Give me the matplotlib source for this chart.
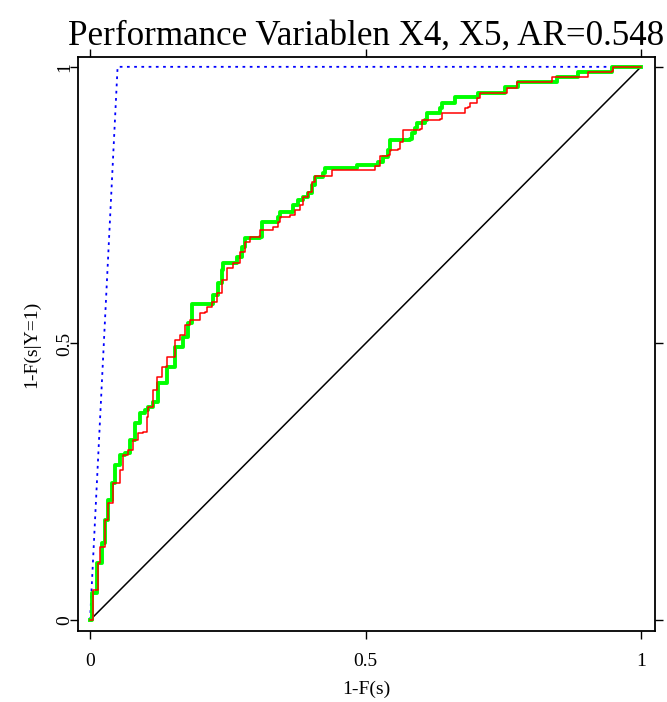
import matplotlib
matplotlib.use("Agg")
import matplotlib.pyplot as plt

plt.rcParams["font.family"] = ["Liberation Serif", "DejaVu Serif"]

# === Dane ===
# krzywa zielona (model 1)
green_x = [0.0, 0.003, 0.012, 0.021, 0.027, 0.033, 0.039, 0.045, 0.054, 0.064,
           0.073, 0.082, 0.091, 0.100, 0.105, 0.114, 0.123, 0.140, 0.154, 0.169,
           0.178, 0.185, 0.221, 0.223, 0.232, 0.240, 0.241, 0.260, 0.267, 0.276,
           0.281, 0.309, 0.312, 0.332, 0.341, 0.345, 0.363, 0.368, 0.377, 0.387,
           0.396, 0.403, 0.408, 0.423, 0.426, 0.485, 0.485, 0.514, 0.523, 0.532,
           0.541, 0.544, 0.581, 0.584, 0.590, 0.593, 0.608, 0.612, 0.632, 0.635,
           0.639, 0.662, 0.662, 0.702, 0.704, 0.750, 0.753, 0.777, 0.777, 0.848,
           0.848, 0.886, 0.886, 0.947, 0.947, 1.0]
green_y = [0.0, 0.049, 0.103, 0.139, 0.181, 0.217, 0.248, 0.280, 0.298, 0.302,
           0.325, 0.356, 0.374, 0.380, 0.385, 0.394, 0.429, 0.458, 0.494, 0.512,
           0.537, 0.571, 0.571, 0.588, 0.609, 0.633, 0.646, 0.646, 0.656, 0.675,
           0.691, 0.693, 0.720, 0.720, 0.729, 0.738, 0.738, 0.750, 0.759, 0.765,
           0.772, 0.787, 0.801, 0.808, 0.817, 0.817, 0.823, 0.823, 0.828, 0.837,
           0.850, 0.868, 0.870, 0.881, 0.890, 0.899, 0.904, 0.917, 0.917, 0.926,
           0.935, 0.937, 0.946, 0.946, 0.953, 0.953, 0.964, 0.967, 0.973, 0.975,
           0.982, 0.984, 0.991, 0.991, 1.0, 1.0]

# krzywa czerwona (model 2)
red_x = [0.0, 0.005, 0.015, 0.018, 0.027, 0.033, 0.042, 0.054, 0.060, 0.069,
         0.078, 0.087, 0.096, 0.103, 0.105, 0.114, 0.122, 0.131, 0.140, 0.154,
         0.163, 0.172, 0.181, 0.196, 0.200, 0.209, 0.212, 0.221, 0.230, 0.240,
         0.249, 0.260, 0.272, 0.281, 0.290, 0.309, 0.332, 0.341, 0.345, 0.363,
         0.372, 0.381, 0.387, 0.396, 0.403, 0.408, 0.436, 0.439, 0.514, 0.517,
         0.526, 0.526, 0.541, 0.544, 0.559, 0.563, 0.568, 0.599, 0.603, 0.635,
         0.639, 0.677, 0.681, 0.686, 0.690, 0.702, 0.708, 0.750, 0.757, 0.775,
         0.775, 0.835, 0.838, 0.902, 0.904, 0.947, 0.949, 1.0]
red_y = [0.0, 0.054, 0.103, 0.132, 0.181, 0.212, 0.248, 0.271, 0.298, 0.307,
         0.325, 0.338, 0.340, 0.367, 0.385, 0.416, 0.439, 0.458, 0.476, 0.506,
         0.515, 0.533, 0.542, 0.542, 0.555, 0.557, 0.566, 0.575, 0.591, 0.615,
         0.637, 0.646, 0.665, 0.684, 0.693, 0.705, 0.711, 0.720, 0.729, 0.732,
         0.741, 0.750, 0.765, 0.774, 0.792, 0.803, 0.803, 0.814, 0.814, 0.821,
         0.823, 0.839, 0.841, 0.850, 0.852, 0.864, 0.886, 0.888, 0.904, 0.906,
         0.917, 0.917, 0.926, 0.928, 0.935, 0.944, 0.953, 0.953, 0.962, 0.964,
         0.973, 0.973, 0.982, 0.982, 0.991, 0.993, 1.0, 1.0]

# model idealny i losowy
perfect_x = [0.0, 0.05, 1.0]
perfect_y = [0.0, 1.0, 1.0]
random_x = [0.0, 1.0]
random_y = [0.0, 1.0]

ticks = [0, 0.5, 1]
tick_labels = ["0", "0.5", "1"]

# === Wykres ===
fig = plt.figure(figsize=(6.67, 7.02), dpi=100)
ax = fig.add_axes([0.117, 0.101, 0.865, 0.818])

ax.plot(random_x, random_y, color="black", linewidth=1.1)
ax.plot(perfect_x, perfect_y, color="blue", linestyle=(0, (1.5, 2.5)), linewidth=1.3)
ax.plot(green_x, green_y, color="#00ff00", linewidth=2.8, drawstyle="steps-post")
ax.plot(red_x, red_y, color="red", linewidth=1.1, drawstyle="steps-post")

ax.set_xlim(-0.0218, 1.0254)
ax.set_ylim(-0.0199, 1.018)

ax.set_xticks(ticks)
ax.set_xticklabels(tick_labels)
ax.set_yticks(ticks)
ax.set_yticklabels(tick_labels, rotation=90, va="center")

ax.tick_params(direction="out", length=5.8, width=1, labelsize=14,
               top=True, right=True, labeltop=False, labelright=False)
ax.tick_params(axis="x", pad=10)
ax.tick_params(axis="y", pad=-2.5)

for s in ax.spines.values():
    s.set_linewidth(1.3)

ax.set_xlabel("1-F(s)", fontsize=14, labelpad=8)
ax.set_ylabel("1-F(s|Y=1)", fontsize=14, labelpad=11.5)
ax.set_title("Performance Variablen X4, X5, AR=0.548", fontsize=25.2, pad=9)

fig.savefig("out.png", dpi=100)
